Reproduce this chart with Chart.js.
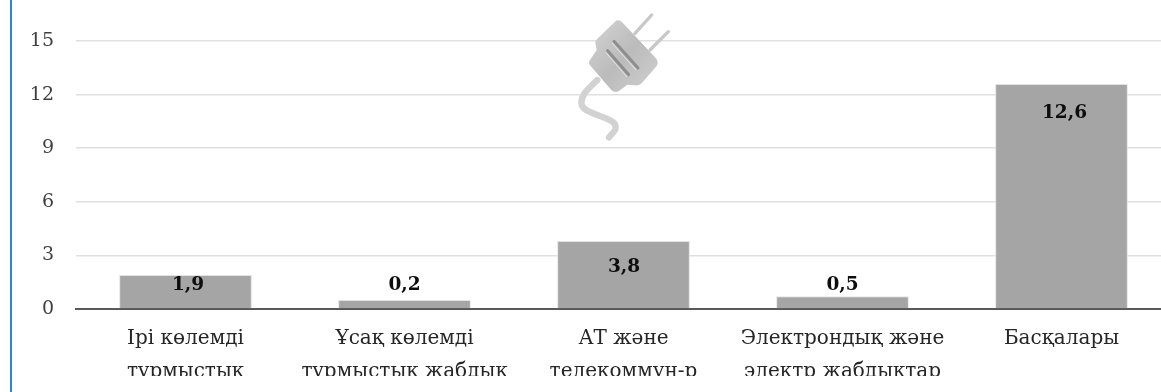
<!DOCTYPE html>
<html><head><meta charset="utf-8">
<script src="https://cdn.jsdelivr.net/npm/chart.js@4"></script>
<style>
html,body{margin:0;padding:0;background:#fff;overflow:hidden;width:1161px;height:392px}
#clip{position:absolute;left:0;top:0;width:1161px;height:376px;overflow:hidden}
#rule{position:absolute;left:10px;top:0;width:2px;height:392px;background:#2a86d8}
canvas{display:block}
</style></head><body>
<div id="clip"><canvas id="c" width="1171" height="400"></canvas></div>
<div id="rule"></div>
<script>
const categories=[["Ірі көлемді","тұрмыстық"],["Ұсақ көлемді","тұрмыстық жабдық"],["АТ және","телекоммун-р"],["Электрондық және","электр жабдықтар"],["Басқалары"]];
const barValues=[1.9,0.5,3.8,0.72,12.6];
const valueLabels=["1,9","0,2","3,8","0,5","12,6"];
const FONT='"DejaVu Serif"';
const labelOffsets=[[2.5,10],[0,-15],[0.5,26],[0,-11],[3,29]];
const labelPlugin={id:'valueText',afterDatasetsDraw(ch){
  const {ctx}=ch,m=ch.getDatasetMeta(0);
  ctx.save();ctx.font='bold 18.5px '+FONT;ctx.fillStyle='#0d0d0d';ctx.textAlign='center';ctx.textBaseline='middle';
  m.data.forEach((b,i)=>ctx.fillText(valueLabels[i],b.x+labelOffsets[i][0],b.y+labelOffsets[i][1]));
  ctx.restore();
}};
const plugPlugin={id:'plug',beforeDatasetsDraw(ch){
  const c=ch.ctx;c.save();c.translate(540,0);c.scale(1/3,1/3);c.filter='blur(0.7px)';c.lineCap='round';c.lineJoin='round';
  c.strokeStyle='#c8c8c8';c.lineWidth=10;
  c.stroke(new Path2D('M285 100L335 45M330 150L385 95'));
  c.strokeStyle='#d2d2d2';c.lineWidth=19;
  c.stroke(new Path2D('M172 240C150 262 125 280 124 308C124 330 155 338 185 350C215 360 232 370 226 388C222 398 212 404 207 412'));
  const g=c.createLinearGradient(160,90,340,260);g.addColorStop(0,'#d0d0d0');g.addColorStop(.5,'#bbbbbb');g.addColorStop(1,'#cdcdcd');
  c.fillStyle=g;
  c.fill(new Path2D('M228 62Q238 58 246 66L345 172Q358 186 350 198L305 250Q298 258 285 256L262 254L236 274Q224 280 214 270L150 196Q144 188 150 180L170 150L166 130Q165 122 172 116Z'));
  c.strokeStyle='#8e8e8e';c.lineWidth=9;
  c.stroke(new Path2D('M222 124L294 204M203 152L266 224'));
  c.strokeStyle='#e4e4e4';c.lineWidth=3;
  c.stroke(new Path2D('M217 130L288 210M198 158L260 230'));
  c.restore();
}};
new Chart(document.getElementById('c'),{
  type:'bar',
  data:{labels:categories,datasets:[{data:barValues,backgroundColor:'#a5a5a5',borderColor:'#e3e3e3',borderWidth:1,categoryPercentage:.606,barPercentage:1}]},
  plugins:[plugPlugin,labelPlugin],
  options:{responsive:false,animation:false,
    layout:{padding:{top:41,left:0,right:0,bottom:0}},
    plugins:{legend:{display:false},tooltip:{enabled:false}},
    scales:{
      x:{grid:{display:false,drawTicks:false},border:{color:'#595959',width:2},
        afterFit(s){s.height=91;},
        ticks:{color:'#262626',padding:14,maxRotation:0,autoSkip:false,font:{family:FONT,size:20,lineHeight:1.62}}},
      y:{min:0,max:15,grid:{color:'#e0e0e0',lineWidth:1.5,drawTicks:false},border:{display:false},
        afterFit(s){s.width=76;},
        ticks:{stepSize:3,color:'#404040',padding:22,font:{family:FONT,size:19}}}
    }}
});
</script></body></html>
